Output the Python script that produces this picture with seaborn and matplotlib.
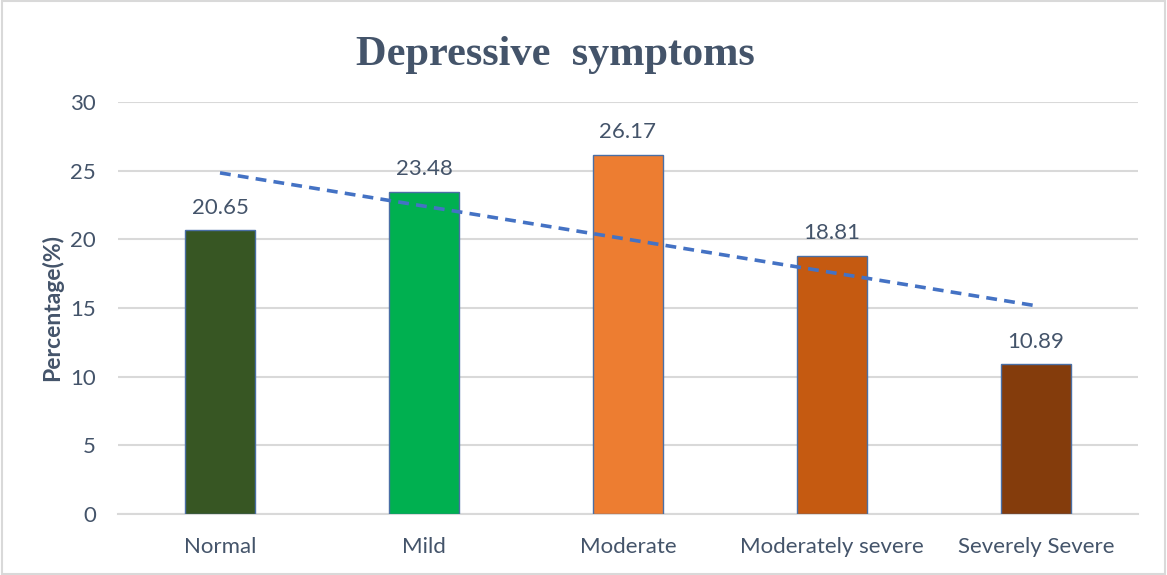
import numpy as np
import pandas as pd
import matplotlib
matplotlib.use("Agg")
import matplotlib.pyplot as plt
import seaborn as sns
from matplotlib.patches import Rectangle

categories = ["Normal", "Mild", "Moderate", "Moderately severe", "Severely Severe"]
percentages = [20.65, 23.48, 26.17, 18.81, 10.89]
bar_colors = ["#375623", "#00B050", "#ED7D31", "#C55A11", "#843C0C"]
y_ticks = [0, 5, 10, 15, 20, 25, 30]

sns.set_theme(style="white")
plt.rcParams["font.family"] = ["Lato", "DejaVu Sans"]

text_color = "#44546A"
grid_color = "#D9D9D9"

df = pd.DataFrame({"category": categories, "pct": percentages})

fig = plt.figure(figsize=(11.67, 5.75), dpi=100)
ax = fig.add_axes([118 / 1167, 1 - 514 / 575, 1020 / 1167, 412 / 575])

sns.barplot(data=df, x="category", y="pct", hue="category", palette=bar_colors,
            saturation=1, legend=False, width=0.345, edgecolor="#4A6FA5",
            linewidth=1.0, ax=ax, zorder=3)

# Value labels above each bar
for i, v in enumerate(percentages):
    ax.annotate(f"{v:.2f}", (i, v), xytext=(0, 9), textcoords="offset points",
                ha="center", va="bottom", fontsize=16, color=text_color)

# Linear trendline across the categories
xs = np.arange(len(percentages))
slope, intercept = np.polyfit(xs, percentages, 1)
ax.plot(xs, slope * xs + intercept, linestyle=(0, (3, 2)), color="#4472C4",
        linewidth=2.6, zorder=4)

ax.set_xlim(-0.5, len(categories) - 0.5)
ax.set_ylim(0, 30)
ax.set_yticks(y_ticks)
ax.yaxis.grid(True, color=grid_color, linewidth=1.5, zorder=0)
ax.set_axisbelow(True)
for side in ["top", "right", "left"]:
    ax.spines[side].set_visible(False)
ax.spines["bottom"].set_color(grid_color)
ax.spines["bottom"].set_linewidth(1.5)
ax.tick_params(axis="y", length=0, pad=16, labelsize=16, labelcolor=text_color)
ax.tick_params(axis="x", length=0, pad=16.5, labelsize=16, labelcolor=text_color)
ax.set_xlabel("")
ax.set_ylabel("Percentage(%)", fontsize=16.5, fontweight="bold", color=text_color,
              labelpad=5)

fig.text(555 / 1167, 1 - 55 / 575, "Depressive  symptoms", ha="center", va="center",
         fontsize=30.5, fontweight="bold", color=text_color, family="Liberation Serif")

fig.patches.append(Rectangle((0.002, 0.002), 0.996, 0.996, transform=fig.transFigure,
                             fill=False, edgecolor="#D9D9D9", linewidth=1.5))

fig.savefig("out.png", dpi=100)
